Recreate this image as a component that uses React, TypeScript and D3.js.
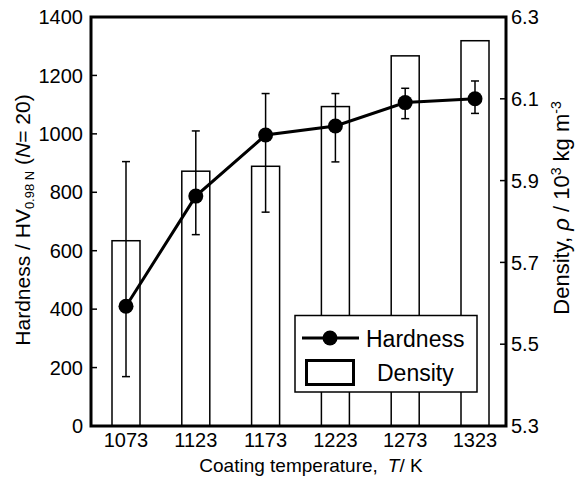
import React from "react";
import * as d3 from "d3";

const categories = ["1073", "1123", "1173", "1223", "1273", "1323"];
const hardness = [410, 787, 996, 1027, 1107, 1120];
const hardnessLow = [169, 655, 732, 904, 1052, 1070];
const hardnessHigh = [905, 1010, 1138, 1138, 1156, 1181];
const density = [5.753, 5.923, 5.935, 6.081, 6.205, 6.242];
const leftTicks = [0, 200, 400, 600, 800, 1000, 1200, 1400];
const rightTicks = [5.3, 5.5, 5.7, 5.9, 6.1, 6.3];

const W = 575;
const H = 479;
const L = 91;
const R = 506;
const T = 17;
const B = 426;
const FONT = "'Liberation Sans', Arial, sans-serif";

export default function App() {
  const x = d3.scalePoint<string>().domain(categories).range([L + 35, R - 31]);
  const yH = d3.scaleLinear().domain([0, 1400]).range([B, T]);
  const yD = d3.scaleLinear().domain([5.3, 6.3]).range([B, T]);
  const barW = 28;
  const cap = 4;
  const line = d3
    .line<number>()
    .x((_, i) => x(categories[i]) as number)
    .y((d) => yH(d));

  return (
    <svg
      width={W}
      height={H}
      style={{ position: "absolute", left: 0, top: 0, background: "#fff" }}
      fontFamily={FONT}
    >
      <rect x={0} y={0} width={W} height={H} fill="#fff" />
      {density.map((d, i) => (
        <rect
          key={"b" + i}
          x={(x(categories[i]) as number) - barW / 2}
          y={yD(d)}
          width={barW}
          height={B - yD(d)}
          fill="#fff"
          stroke="#000"
          strokeWidth={1.5}
        />
      ))}
      {hardness.map((_, i) => {
        const cx = x(categories[i]) as number;
        return (
          <g key={"e" + i} stroke="#000" strokeWidth={1.5}>
            <line x1={cx} x2={cx} y1={yH(hardnessLow[i])} y2={yH(hardnessHigh[i])} />
            <line x1={cx - cap} x2={cx + cap} y1={yH(hardnessLow[i])} y2={yH(hardnessLow[i])} />
            <line x1={cx - cap} x2={cx + cap} y1={yH(hardnessHigh[i])} y2={yH(hardnessHigh[i])} />
          </g>
        );
      })}
      <path d={line(hardness) as string} fill="none" stroke="#000" strokeWidth={3} />
      {hardness.map((d, i) => (
        <circle key={"c" + i} cx={x(categories[i]) as number} cy={yH(d)} r={7.5} fill="#000" />
      ))}
      <g>
        <rect x={295} y={315.5} width={182} height={76.5} fill="#fff" stroke="#000" strokeWidth={1.5} />
        <line x1={302} x2={359} y1={338} y2={338} stroke="#000" strokeWidth={3} />
        <circle cx={330} cy={338} r={7.5} fill="#000" />
        <text x={366} y={346.5} fontSize={23}>Hardness</text>
        <rect x={306.5} y={360.5} width={47} height={24} fill="#fff" stroke="#000" strokeWidth={3} />
        <text x={377} y={380.5} fontSize={23}>Density</text>
      </g>
      {leftTicks.map((t) => (
        <g key={"l" + t}>
          <line x1={L} x2={L + 6} y1={yH(t)} y2={yH(t)} stroke="#000" strokeWidth={1.5} />
          <text x={L - 8} y={yH(t)} dy="0.36em" textAnchor="end" fontSize={20}>
            {t}
          </text>
        </g>
      ))}
      {rightTicks.map((t) => (
        <g key={"r" + t}>
          <line x1={R - 6} x2={R} y1={yD(t)} y2={yD(t)} stroke="#000" strokeWidth={1.5} />
          <text x={R + 5} y={yD(t)} dy="0.36em" textAnchor="start" fontSize={20}>
            {t.toFixed(1)}
          </text>
        </g>
      ))}
      {categories.map((c) => (
        <text key={"x" + c} x={x(c) as number} y={447} textAnchor="middle" fontSize={20}>
          {c}
        </text>
      ))}
      <rect x={L} y={T} width={R - L} height={B - T} fill="none" stroke="#000" strokeWidth={3} />
      <text x={311} y={472} textAnchor="middle" fontSize={19}>
        Coating temperature,
        <tspan dx={10} fontStyle="italic">T</tspan>
        <tspan>/ K</tspan>
      </text>
      <text
        transform={`translate(30, 220) rotate(-90)`}
        textAnchor="middle"
        fontSize={21}
      >
        Hardness / HV
        <tspan fontSize={13} dy={4}>0.98 N</tspan>
        <tspan dy={-4}> (</tspan>
        <tspan fontStyle="italic">N</tspan>
        <tspan>= 20)</tspan>
      </text>
      <text
        transform={`translate(569, 208) rotate(-90)`}
        textAnchor="middle"
        fontSize={22}
      >
        Density,{" "}
        <tspan fontStyle="italic">ρ</tspan> / 10
        <tspan fontSize={14} dy={-8}>3</tspan>
        <tspan dy={8}> kg m</tspan>
        <tspan fontSize={14} dy={-8}>-3</tspan>
      </text>
    </svg>
  );
}
